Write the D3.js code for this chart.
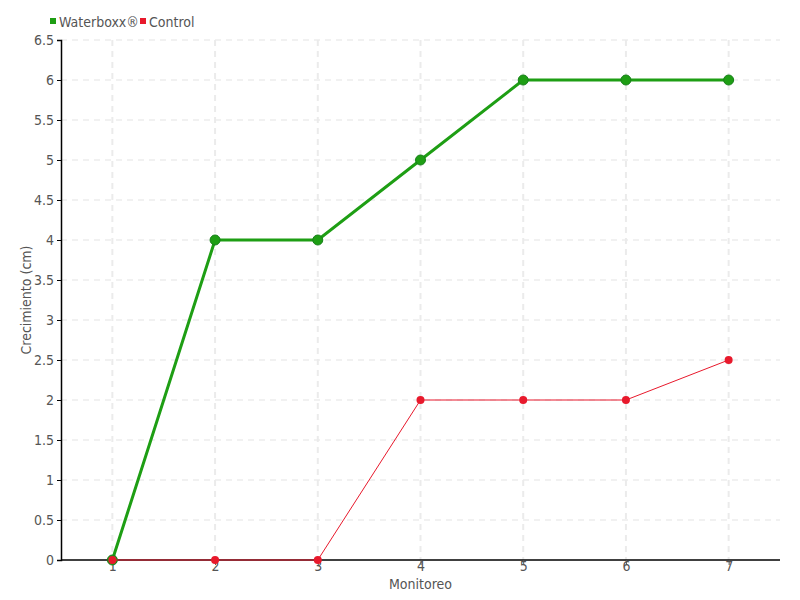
<!DOCTYPE html>
<html>
<head>
<meta charset="utf-8">
<script src="https://cdn.jsdelivr.net/npm/d3@7.9.0/dist/d3.min.js"></script>
<style>
  body { margin: 0; background: #fff; }
  svg text { font-family: "DejaVu Sans Condensed", "DejaVu Sans", sans-serif; font-stretch: condensed; fill: #555; }
</style>
</head>
<body>
<svg id="chart" width="800" height="600"></svg>
<script>
// Monitoring rounds and growth values (cm)
const monitoreo = [1, 2, 3, 4, 5, 6, 7];
const waterboxx = [0, 4, 4, 5, 6, 6, 6];
const control = [0, 0, 0, 2, 2, 2, 2.5];
const yTicks = d3.range(0, 6.51, 0.5);

const margin = { top: 40, right: 20, bottom: 40, left: 61 };
const width = 800, height = 600;

const svg = d3.select('#chart');

const x = d3.scaleLinear().domain([0.5, 7.5]).range([margin.left, width - margin.right]);
const y = d3.scaleLinear().domain([0, 6.5]).range([height - margin.bottom, margin.top]);

// grid
svg.append('g')
  .selectAll('line')
  .data(yTicks.filter(d => d > 0))
  .join('line')
  .attr('x1', margin.left).attr('x2', width - margin.right)
  .attr('y1', d => y(d)).attr('y2', d => y(d))
  .attr('stroke', '#e3e3e3').attr('stroke-dasharray', '6,5');

svg.append('g')
  .selectAll('line')
  .data(monitoreo)
  .join('line')
  .attr('x1', d => x(d)).attr('x2', d => x(d))
  .attr('y1', margin.top).attr('y2', height - margin.bottom)
  .attr('stroke', '#ebebeb').attr('stroke-width', 2).attr('stroke-dasharray', '6,5');

// y axis
const yAxis = svg.append('g')
  .attr('transform', `translate(${margin.left},0)`)
  .call(d3.axisLeft(y).tickValues(yTicks).tickSize(4).tickPadding(3).tickFormat(d3.format('')));
yAxis.select('.domain').attr('stroke', '#000').attr('stroke-width', 1.5);
yAxis.selectAll('.tick line').attr('stroke', '#000');
yAxis.selectAll('text').style('font-size', '14px').attr('fill', '#555');

// x axis
const xAxis = svg.append('g')
  .attr('transform', `translate(0,${height - margin.bottom})`)
  .call(d3.axisBottom(x).tickValues(monitoreo).tickFormat(d3.format('d')).tickSize(5).tickPadding(-4).tickSizeOuter(0));
xAxis.select('.domain').attr('stroke', '#000').attr('stroke-width', 1.5)
  .attr('d', `M${margin.left},0H${width - margin.right}`);
xAxis.selectAll('.tick line').attr('stroke', '#555');
xAxis.selectAll('text').style('font-size', '14px').attr('fill', '#555');

// axis titles
svg.append('text')
  .attr('x', (margin.left + width - margin.right) / 2)
  .attr('y', 589)
  .attr('text-anchor', 'middle')
  .style('font-size', '14px')
  .text('Monitoreo');

svg.append('text')
  .attr('transform', 'translate(31,300) rotate(-90)')
  .attr('text-anchor', 'middle')
  .style('font-size', '14px')
  .text('Crecimiento (cm)');

const line = d3.line().x((d, i) => x(monitoreo[i])).y(d => y(d));

// Waterboxx series
svg.append('path')
  .datum(waterboxx)
  .attr('d', line)
  .attr('fill', 'none')
  .attr('stroke', '#1e9e14')
  .attr('stroke-width', 3);
svg.append('g')
  .selectAll('circle')
  .data(waterboxx)
  .join('circle')
  .attr('cx', (d, i) => x(monitoreo[i]))
  .attr('cy', d => y(d))
  .attr('r', 5)
  .attr('fill', '#1e9e14')
  .attr('stroke', '#17801a')
  .attr('stroke-width', 1);

// Control series
svg.append('path')
  .datum(control)
  .attr('d', line)
  .attr('fill', 'none')
  .attr('stroke', '#e8192c')
  .attr('stroke-width', 1);
svg.append('g')
  .selectAll('circle')
  .data(control)
  .join('circle')
  .attr('cx', (d, i) => x(monitoreo[i]))
  .attr('cy', d => y(d))
  .attr('r', 4)
  .attr('fill', '#e8192c');

// legend
const legend = [
  { label: 'Waterboxx®', color: '#1e9e14', x: 50 },
  { label: 'Control', color: '#e8192c', x: 140 }
];
const lg = svg.append('g').selectAll('g').data(legend).join('g')
  .attr('transform', d => `translate(${d.x},22)`);
lg.append('rect').attr('x', 0).attr('y', -4).attr('width', 6).attr('height', 6).attr('fill', d => d.color);
lg.append('text').attr('x', 9).attr('y', 5).style('font-size', '14px').text(d => d.label);
</script>
</body>
</html>
